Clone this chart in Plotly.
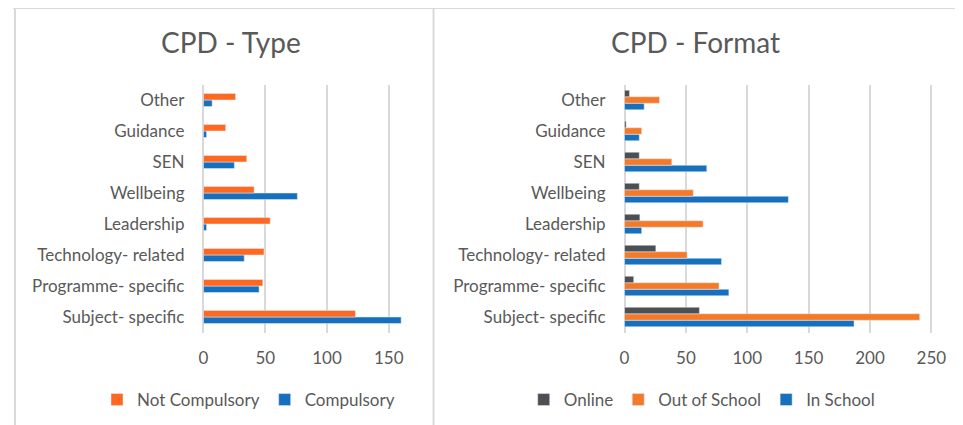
import plotly.graph_objects as go

# categories (bottom to top as drawn)
categories = ["Subject- specific", "Programme- specific", "Technology- related",
              "Leadership", "Wellbeing", "SEN", "Guidance", "Other"]

# CPD - Type
compulsory = [160, 45, 33, 2.5, 76, 25, 2.5, 7]
not_compulsory = [123, 48, 49, 54, 41, 35, 18, 26]

# CPD - Format
in_school = [187, 85, 79, 14, 133.5, 67, 12, 16]
out_of_school = [240.5, 77, 51, 64, 56, 38.5, 14, 28.5]
online = [61, 7.5, 25.5, 12.5, 12, 12, 1.3, 4]

# page body has an 8px margin, so the figure is sized to fit the window
OFF = 8
W, H = 963 - OFF, 425 - OFF
FONT = "Lato"
TXT = "#595959"
GRID = "#D9D9D9"

BLUE = "#1670BE"
ORANGE_L = "#FF6820"
ORANGE_R = "#F47A2A"
GREY = "#4D4F53"

BW = 0.21  # bar thickness in category units


def px(x):
    return (x - OFF) / W


def py(y):
    return 1 - (y - OFF) / H


fig = go.Figure()

# left chart
fig.add_trace(go.Bar(y=categories, x=compulsory, name="Compulsory", orientation="h",
                     width=BW, offset=-BW, marker_color=BLUE,
                     xaxis="x", yaxis="y", legend="legend"))
fig.add_trace(go.Bar(y=categories, x=not_compulsory, name="Not Compulsory", orientation="h",
                     width=BW, offset=0, marker_color=ORANGE_L,
                     xaxis="x", yaxis="y", legend="legend"))

# right chart
fig.add_trace(go.Bar(y=categories, x=in_school, name="In School", orientation="h",
                     width=BW, offset=-1.5 * BW, marker_color=BLUE,
                     xaxis="x2", yaxis="y2", legend="legend2"))
fig.add_trace(go.Bar(y=categories, x=out_of_school, name="Out of School", orientation="h",
                     width=BW, offset=-0.5 * BW, marker_color=ORANGE_R,
                     xaxis="x2", yaxis="y2", legend="legend2"))
fig.add_trace(go.Bar(y=categories, x=online, name="Online", orientation="h",
                     width=BW, offset=0.5 * BW, marker_color=GREY,
                     xaxis="x2", yaxis="y2", legend="legend2"))

ydom = [py(332.5), py(84.5)]
xaxis_common = dict(showgrid=True, gridcolor=GRID, gridwidth=2, zeroline=True,
                    zerolinecolor=GRID, zerolinewidth=2, showline=False, ticks="",
                    tickfont=dict(family=FONT, size=17, color=TXT), dtick=50,
                    ticklabelstandoff=13)
yaxis_common = dict(showgrid=False, zeroline=False, showline=False, ticks="",
                    tickfont=dict(family=FONT, size=17, color=TXT), ticklabelstandoff=18)

legend_common = dict(orientation="h", y=py(400), xanchor="center", yanchor="middle",
                     traceorder="reversed", font=dict(family=FONT, size=17, color=TXT),
                     itemwidth=30, bgcolor="rgba(0,0,0,0)")

fig.update_layout(
    width=W, height=H,
    margin=dict(l=0, r=0, t=0, b=0),
    paper_bgcolor="white", plot_bgcolor="white",
    barmode="overlay",
    font=dict(family=FONT, color=TXT),
    xaxis=dict(domain=[px(200.5), px(406.5)], range=[0, 165], anchor="y", **xaxis_common),
    yaxis=dict(domain=ydom, anchor="x", **yaxis_common),
    xaxis2=dict(domain=[px(626), px(946)], range=[0, 258], anchor="y2", **xaxis_common),
    yaxis2=dict(domain=ydom, anchor="x2", **yaxis_common),
    legend=dict(x=px(246), **legend_common),
    legend2=dict(x=px(704), **legend_common),
    showlegend=True,
)

# panel borders
for x0, y0, x1, y1 in [(8, 8, 963, 8), (10, 8, 10, 425), (433, 8, 433, 425)]:
    fig.add_shape(type="line", xref="paper", yref="paper",
                  x0=px(x0), y0=py(y0), x1=px(x1), y1=py(y1),
                  line=dict(color=GRID, width=2))

fig.add_annotation(text="CPD - Type", x=px(228), y=py(42), xref="paper", yref="paper",
                   xanchor="center", yanchor="middle", showarrow=False,
                   font=dict(family=FONT, size=28, color=TXT))
fig.add_annotation(text="CPD - Format", x=px(698), y=py(42), xref="paper", yref="paper",
                   xanchor="center", yanchor="middle", showarrow=False,
                   font=dict(family=FONT, size=28, color=TXT))

fig.write_html("out.html")
